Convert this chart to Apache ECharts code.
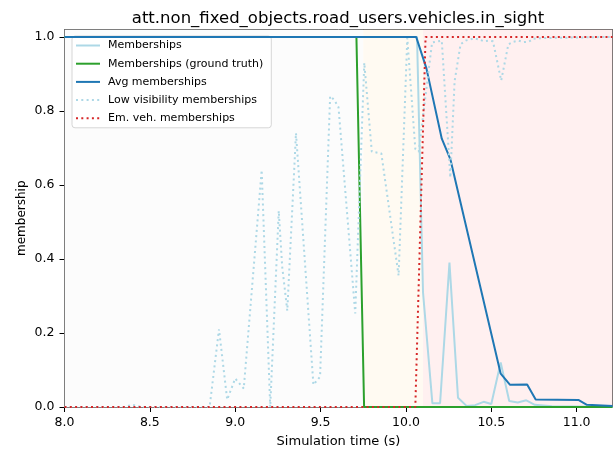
<!DOCTYPE html>
<html>
<head>
<meta charset="utf-8">
<script src="https://cdn.jsdelivr.net/npm/echarts@6/dist/echarts.min.js"></script>
<style>
  html, body { margin: 0; padding: 0; background: #fff; }
  #chart { width: 615px; height: 450px; }
</style>
</head>
<body>
<div id="chart"></div>
<script>
// ---- data ----
const xTicks = [8.0, 8.5, 9.0, 9.5, 10.0, 10.5, 11.0];
const yTicks = [0.0, 0.2, 0.4, 0.6, 0.8, 1.0];

const membershipsTime   = [8.0, 10.065, 10.1, 10.155, 10.2, 10.255, 10.305, 10.355, 10.405, 10.455, 10.5, 10.555, 10.605, 10.655, 10.705, 10.755, 10.805, 10.855, 11.21];
const membershipsValues = [1.0, 1.0, 0.31, 0.01, 0.01, 0.39, 0.025, 0.003, 0.005, 0.014, 0.008, 0.12, 0.016, 0.012, 0.018, 0.006, 0.004, 0.002, 0.0];

const groundTruthTime   = [8.0, 9.71, 9.755, 11.21];
const groundTruthValues = [1.0, 1.0, 0.0, 0.0];

const avgTime   = [8.0, 10.06, 10.12, 10.21, 10.26, 10.555, 10.61, 10.71, 10.76, 11.01, 11.06, 11.21];
const avgValues = [1.0, 1.0, 0.915, 0.725, 0.67, 0.09, 0.06, 0.061, 0.02, 0.019, 0.006, 0.003];

const lowVisTime   = [8.0, 8.35, 8.4, 8.45, 8.85, 8.905, 8.953, 9.0, 9.05, 9.155, 9.205, 9.255, 9.275, 9.305, 9.356, 9.458, 9.497, 9.556, 9.58, 9.605, 9.703, 9.756, 9.8, 9.856, 9.957, 10.008, 10.055, 10.075, 10.153, 10.21, 10.26, 10.285, 10.32, 10.35, 10.4, 10.43, 10.456, 10.486, 10.51, 10.558, 10.6, 10.63, 10.66, 10.69, 10.72, 10.746, 10.81, 11.21];
const lowVisValues = [0.0, 0.0, 0.006, 0.0, 0.0, 0.21, 0.02, 0.077, 0.05, 0.64, 0.0, 0.53, 0.38, 0.26, 0.74, 0.06, 0.082, 0.84, 0.83, 0.81, 0.253, 0.93, 0.69, 0.685, 0.355, 0.997, 0.697, 0.69, 0.985, 0.99, 0.62, 0.88, 0.98, 0.99, 0.996, 0.993, 0.988, 0.99, 0.988, 0.882, 0.98, 0.987, 0.99, 0.986, 0.987, 0.995, 0.997, 1.0];

const emVehTime   = [8.0, 10.055, 10.115, 11.21];
const emVehValues = [0.0, 0.0, 1.0, 1.0];

const phaseStarts = [8.0, 9.75, 10.1];
const phaseEnds   = [9.75, 10.1, 11.21];

// ---- chart ----
const zip = (t, v) => t.map((x, i) => [x, v[i]]);
const phaseColors = ['#fcfcfc', '#fffaf2', '#fff0f0'];
const font = 'DejaVu Sans';

const chart = echarts.init(document.getElementById('chart'), null, { renderer: 'canvas' });
chart.setOption({
  animation: false,
  backgroundColor: '#ffffff',
  textStyle: { fontFamily: font },
  title: {
    text: 'att.non_fixed_objects.road_users.vehicles.in_sight',
    left: 333, top: 5, textAlign: 'center',
    textStyle: { fontFamily: font, fontSize: 16.5, fontWeight: 'normal', color: '#000' }
  },
  grid: {
    left: 64.5, right: 2.5, top: 29.5, bottom: 43,
    outerBoundsMode: 'none', containLabel: false,
    show: true, borderColor: '#000', borderWidth: 1, backgroundColor: 'transparent'
  },
  legend: {
    orient: 'vertical', left: 72, top: 36,
    data: ['Memberships', 'Memberships (ground truth)', 'Avg memberships', 'Low visibility memberships', 'Em. veh. memberships'],
    itemWidth: 24, itemHeight: 11, itemGap: 7.2,
    padding: [4, 8, 4, 3],
    itemStyle: { opacity: 0 },
    backgroundColor: 'rgba(255,255,255,0.8)', borderColor: '#d6d6d6', borderWidth: 1, borderRadius: 3,
    textStyle: { fontFamily: font, fontSize: 11, color: '#000', padding: [0, 0, 0, 3] }
  },
  xAxis: {
    type: 'value', min: 8.0, max: 11.21,
    name: 'Simulation time (s)', nameLocation: 'middle', nameGap: 28, nameMoveOverlap: false,
    nameTextStyle: { fontFamily: font, fontSize: 13, color: '#000' },
    axisLine: { show: false },
    splitLine: { show: false },
    axisTick: { show: true, customValues: xTicks, length: 5, lineStyle: { color: '#000' } },
    axisLabel: { customValues: xTicks, fontFamily: font, fontSize: 12.5, color: '#000', margin: 9,
      formatter: v => v.toFixed(1) }
  },
  yAxis: {
    type: 'value', min: 0, max: 1.02,
    name: 'membership', nameLocation: 'middle', nameGap: 37, nameRotate: 90, nameMoveOverlap: false,
    nameTextStyle: { fontFamily: font, fontSize: 12, color: '#000' },
    axisLine: { show: false },
    splitLine: { show: false },
    axisTick: { show: true, customValues: yTicks, length: 5, lineStyle: { color: '#000' } },
    axisLabel: { customValues: yTicks, fontFamily: font, fontSize: 12.5, color: '#000', margin: 10,
      formatter: v => v.toFixed(1) }
  },
  series: [
    {
      name: 'phases', type: 'line', data: [], z: 0, silent: true,
      markArea: {
        silent: true,
        data: phaseStarts.map((s, i) => [
          { xAxis: s, yAxis: 0, itemStyle: { color: phaseColors[i] } },
          { xAxis: phaseEnds[i], yAxis: 1.02 }
        ])
      }
    },
    {
      name: 'Memberships', type: 'line', data: zip(membershipsTime, membershipsValues),
      symbol: 'none', z: 2, color: '#add8e6', lineStyle: { width: 2, color: '#add8e6' }
    },
    {
      name: 'Memberships (ground truth)', type: 'line', data: zip(groundTruthTime, groundTruthValues),
      symbol: 'none', z: 3, color: '#2ca02c', lineStyle: { width: 2, color: '#2ca02c' }
    },
    {
      name: 'Avg memberships', type: 'line', data: zip(avgTime, avgValues),
      symbol: 'none', z: 4, color: '#1f77b4', lineStyle: { width: 2, color: '#1f77b4' }
    },
    {
      name: 'Low visibility memberships', type: 'line', data: zip(lowVisTime, lowVisValues),
      symbol: 'none', z: 5, color: '#add8e6', lineStyle: { width: 2, color: '#add8e6', type: [2, 3.3] }
    },
    {
      name: 'Em. veh. memberships', type: 'line', data: zip(emVehTime, emVehValues),
      symbol: 'none', z: 6, color: '#d62728', lineStyle: { width: 2, color: '#d62728', type: [2, 3.3] }
    }
  ]
});
</script>
</body>
</html>
